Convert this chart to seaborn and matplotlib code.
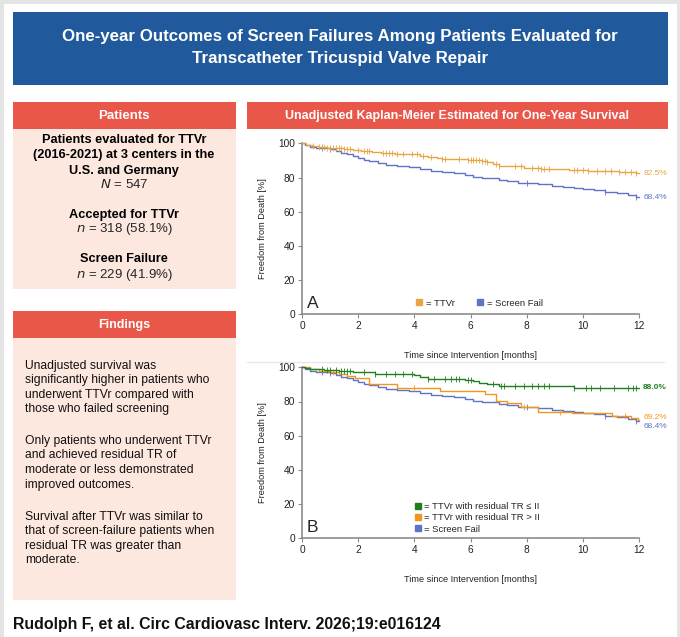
import numpy as np
import pandas as pd
import matplotlib
matplotlib.use('Agg')
import matplotlib.pyplot as plt
import seaborn as sns
from matplotlib.patches import Rectangle
from matplotlib.lines import Line2D

# ---- data ----
# panel A: TTVr
ttvr_t = [0, 0.15, 0.35, 0.6, 0.9, 1.2, 1.5, 1.8, 2.1, 2.5, 2.8, 3.3, 3.9, 4.2, 4.5, 4.8, 5.0,
          5.9, 6.2, 6.4, 6.6, 6.8, 7.0, 7.4, 7.9, 8.5, 9.5, 10.2, 11.3, 11.6, 11.9, 12.0]
ttvr_s = [100, 99, 98.5, 98, 97.5, 97, 96.5, 96, 95.5, 95, 94.5, 94, 93.5, 92.5, 92, 91.5, 91,
          90.5, 90, 89.5, 89, 88, 87, 86.5, 85.5, 85, 84.5, 84, 83.5, 83, 82.5, 82.5]
ttvr_cens = [0.4, 0.6, 0.7, 0.8, 0.9, 1.0, 1.1, 1.2, 1.3, 1.4, 1.5, 1.6, 1.7, 2.0, 2.2, 2.3, 2.4,
             2.9, 3.0, 3.1, 3.2, 3.4, 3.6, 3.9, 4.1, 4.3, 4.6, 5.0, 5.1, 5.6, 5.9, 6.0, 6.1, 6.2,
             6.3, 6.4, 6.5, 6.6, 6.9, 7.0, 7.6, 7.8, 8.2, 8.4, 8.5, 8.6, 8.8, 9.7, 9.8, 10.0,
             10.2, 10.5, 10.8, 11.0, 11.3, 11.5, 11.7, 11.9]

# screen fail (same curve in A and B)
sf_t = [0, 0.1, 0.3, 0.5, 0.8, 1.0, 1.2, 1.4, 1.6, 1.8, 2.0, 2.2, 2.4, 2.7, 3.0, 3.4, 3.8, 4.2,
        4.6, 5.0, 5.4, 5.8, 6.1, 6.4, 7.0, 7.3, 7.7, 8.0, 8.4, 8.9, 9.3, 9.7, 10.0, 10.4, 10.8,
        11.2, 11.6, 11.9, 12.0]
sf_s = [100, 99, 98, 97.5, 97, 96.5, 95.5, 94.5, 93.5, 92.5, 91.5, 90.5, 89.5, 88.5, 87.5, 86.5,
        86, 85, 84, 83.5, 82.5, 81.5, 80.5, 79.5, 78.5, 78, 77, 76.5, 76, 75, 74.5, 74, 73.5,
        72.5, 71.5, 71, 70, 68.4, 68.4]
sf_cens = [0.7, 1.0, 8.0, 10.8, 11.9]

# panel B: TTVr with residual TR <= II
low_t = [0, 0.1, 0.3, 0.8, 1.3, 1.8, 2.6, 4.0, 4.2, 4.5, 5.8, 6.1, 6.3, 6.6, 7.0, 9.7, 12.0]
low_s = [100, 99.5, 99, 98.5, 98, 97, 96, 95.5, 94.5, 93, 92.5, 92, 91, 90, 89, 88, 88.0]
low_cens = [0.7, 0.9, 1.0, 1.2, 1.4, 1.5, 1.6, 1.7, 2.2, 2.6, 3.0, 3.3, 3.6, 3.9, 4.5, 4.7, 5.1,
            5.3, 5.5, 5.6, 5.9, 6.0, 6.8, 7.1, 7.2, 7.6, 7.9, 8.2, 8.4, 8.6, 8.8, 9.7, 10.1,
            10.3, 10.6, 11.1, 11.6, 11.8, 11.9]

# panel B: TTVr with residual TR > II
high_t = [0, 0.3, 0.6, 1.0, 1.3, 1.6, 1.9, 2.4, 3.4, 4.9, 6.5, 6.9, 7.3, 7.8, 8.4, 9.6, 11.05,
          11.7, 11.95, 12.0]
high_s = [100, 99, 98, 97, 96, 95, 93.5, 90, 88, 86, 84.5, 80.5, 79, 77, 74, 73.5, 71.5, 70.5,
          69.2, 69.2]
high_cens = [1.1, 4.0, 7.9, 9.2, 11.5]

c_ttvr = '#E9A544'
c_sf = '#5D74C6'
c_low = '#1F7F1F'
c_high = '#F5961C'

blue_hdr = '#215A9C'
red_hdr = '#E9574A'
pink = '#FDE8DF'

sns.set_theme(style='white')
plt.rcParams['font.family'] = ['Liberation Sans', 'DejaVu Sans']

fig = plt.figure(figsize=(6.8, 6.37), dpi=100, facecolor='#E4E4E4')


def fx(px):
    return px / 680.0


def fy(py):
    return 1 - py / 637.0


def box(x0, y0, x1, y1, color):
    fig.patches.append(Rectangle((fx(x0), fy(y1)), fx(x1) - fx(x0), (y1 - y0) / 637.0,
                                 transform=fig.transFigure, facecolor=color,
                                 edgecolor='none', zorder=-5))


# page + boxes
box(4, 4, 677, 637, 'white')
box(13, 12, 668, 85, blue_hdr)
box(13, 102, 236, 129, red_hdr)
box(13, 129, 236, 289, pink)
box(247, 102, 668, 129, red_hdr)
box(13, 311, 236, 338, red_hdr)
box(13, 338, 236, 600, pink)
fig.add_artist(Line2D([fx(247), fx(664)], [fy(362), fy(362)], color='#E6E6E6', lw=1,
                      zorder=-4))

# title
fig.text(fx(340), fy(37), 'One-year Outcomes of Screen Failures Among Patients Evaluated for',
         ha='center', va='center', color='white', fontsize=12.2, fontweight='bold')
fig.text(fx(340), fy(58), 'Transcatheter Tricuspid Valve Repair',
         ha='center', va='center', color='white', fontsize=12.2, fontweight='bold')

# section headers
fig.text(fx(124), fy(116), 'Patients', ha='center', va='center', color='white',
         fontsize=9.5, fontweight='bold')
fig.text(fx(457), fy(116), 'Unadjusted Kaplan-Meier Estimated for One-Year Survival',
         ha='center', va='center', color='white', fontsize=9, fontweight='bold')
fig.text(fx(124), fy(325), 'Findings', ha='center', va='center', color='white',
         fontsize=9, fontweight='bold')

# patients box
pat_lines = [
    (140, 'Patients evaluated for TTVr'),
    (155, '(2016-2021) at 3 centers in the'),
    (171, 'U.S. and Germany'),
    (215, 'Accepted for TTVr'),
    (259, 'Screen Failure'),
]
for y, s in pat_lines:
    fig.text(fx(124), fy(y), s, ha='center', va='center', color='black',
             fontsize=9.2, fontweight='bold')
fig.text(fx(124), fy(185), r'$\it{N}$ = 547', ha='center', va='center', fontsize=9.5)
fig.text(fx(124), fy(229), r'$\it{n}$ = 318 (58.1%)', ha='center', va='center', fontsize=9.5)
fig.text(fx(124), fy(275), r'$\it{n}$ = 229 (41.9%)', ha='center', va='center', fontsize=9.5)

# findings text
findings = [
    (366, 'Unadjusted survival was'),
    (380, 'significantly higher in patients who'),
    (395, 'underwent TTVr compared with'),
    (409, 'those who failed screening'),
    (441, 'Only patients who underwent TTVr'),
    (455, 'and achieved residual TR of'),
    (470, 'moderate or less demonstrated'),
    (485, 'improved outcomes.'),
    (517, 'Survival after TTVr was similar to'),
    (531, 'that of screen-failure patients when'),
    (546, 'residual TR was greater than'),
    (560, 'moderate.'),
]
for y, s in findings:
    fig.text(fx(25), fy(y), s, ha='left', va='center', fontsize=8.7, color='#111111')

fig.text(fx(13), fy(625), 'Rudolph F, et al. Circ Cardiovasc Interv. 2026;19:e016124',
         ha='left', va='center', fontsize=11.4, fontweight='bold', color='#111111')


# ---- KM panels ----
def km(ax, t, s, cens, color):
    d = pd.DataFrame({'t': t, 's': s})
    sns.lineplot(data=d, x='t', y='s', ax=ax, color=color, lw=1.0, drawstyle='steps-post',
                 estimator=None, clip_on=False, zorder=3)
    idx = np.searchsorted(np.array(t), np.array(cens), side='right') - 1
    ax.plot(cens, np.array(s)[idx], ls='none', marker='|', ms=4.5, mew=0.6, color=color,
            clip_on=False, zorder=3)


def style_axes(ax):
    ax.set_xlim(0, 12)
    ax.set_ylim(0, 100)
    ax.set_xticks(range(0, 13, 2))
    ax.set_yticks(range(0, 101, 20))
    sns.despine(ax=ax)
    for side in ('left', 'bottom'):
        ax.spines[side].set_color('#8C8C8C')
        ax.spines[side].set_linewidth(1.2)
    ax.tick_params(bottom=True, left=True, direction='out', length=3, width=0.8,
                   color='#8C8C8C', labelsize=7.3, labelcolor='#222222', pad=2)
    ax.set_xlabel('Time since Intervention [months]', fontsize=6.6, color='#222222',
                  labelpad=14)
    ax.set_ylabel('Freedom from Death [%]', fontsize=6.6, color='#222222', labelpad=8)
    ax.set_facecolor('none')


axA = fig.add_axes([fx(302), fy(314.3), fx(639) - fx(302), (314.3 - 143.3) / 637])
km(axA, sf_t, sf_s, sf_cens, c_sf)
km(axA, ttvr_t, ttvr_s, ttvr_cens, c_ttvr)
style_axes(axA)
axA.annotate('82.5%', (12, ttvr_s[-1]), xytext=(3, 0), textcoords='offset points',
             fontsize=6, color=c_ttvr, va='center', ha='left', annotation_clip=False)
axA.annotate('68.4%', (12, sf_s[-1]), xytext=(3, 0), textcoords='offset points',
             fontsize=6, color=c_sf, va='center', ha='left', annotation_clip=False)
axA.text(0.015, 0.065, 'A', transform=axA.transAxes, fontsize=12.5, va='center', ha='left')
hA = [Line2D([], [], ls='none', marker='s', ms=4.5, color=c_ttvr),
      Line2D([], [], ls='none', marker='s', ms=4.5, color=c_sf)]
axA.legend(hA, ['= TTVr', '= Screen Fail'], ncol=2, frameon=False, fontsize=6.8,
           loc='center', bbox_to_anchor=(0.525, 0.066), handletextpad=0.2,
           columnspacing=2.2, handlelength=1)

axB = fig.add_axes([fx(302), fy(538.3), fx(639) - fx(302), (538.3 - 367.3) / 637])
km(axB, sf_t, sf_s, sf_cens, c_sf)
km(axB, high_t, high_s, high_cens, c_high)
km(axB, low_t, low_s, low_cens, c_low)
style_axes(axB)
axB.annotate('88.0%', (12, low_s[-1]), xytext=(3, 0), textcoords='offset points',
             fontsize=6, color=c_low, va='center', ha='left', fontweight='bold',
             annotation_clip=False)
axB.annotate('69.2%', (12, high_s[-1]), xytext=(3, 1.5), textcoords='offset points',
             fontsize=6, color=c_high, va='center', ha='left', annotation_clip=False)
axB.annotate('68.4%', (12, sf_s[-1]), xytext=(3, -4), textcoords='offset points',
             fontsize=6, color=c_sf, va='center', ha='left', annotation_clip=False)
axB.text(0.015, 0.065, 'B', transform=axB.transAxes, fontsize=12.5, va='center', ha='left')
hB = [Line2D([], [], ls='none', marker='s', ms=4.5, color=c_low),
      Line2D([], [], ls='none', marker='s', ms=4.5, color=c_high),
      Line2D([], [], ls='none', marker='s', ms=4.5, color=c_sf)]
axB.legend(hB, ['= TTVr with residual TR \u2264 II', '= TTVr with residual TR > II',
                '= Screen Fail'], frameon=False, fontsize=6.8, loc='center left',
           bbox_to_anchor=(0.31, 0.12), handletextpad=0.2, handlelength=1, labelspacing=0.25,
           borderpad=0.2)

fig.savefig('out.png', dpi=100, facecolor=fig.get_facecolor())
